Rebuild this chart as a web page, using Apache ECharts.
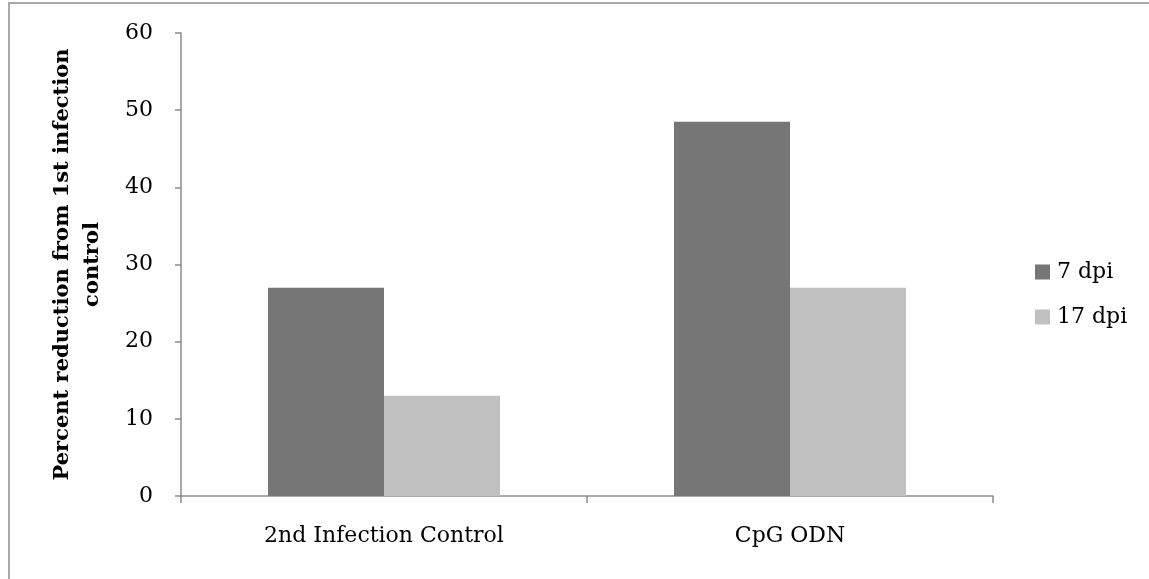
<!DOCTYPE html>
<html>
<head>
<meta charset="utf-8">
<script src="https://cdn.jsdelivr.net/npm/echarts@6/dist/echarts.min.js"></script>
<style>
  html, body { margin: 0; padding: 0; background: #fff; }
  #chart { width: 1149px; height: 579px; }
</style>
</head>
<body>
<div id="chart"></div>
<script>
// Treatment groups along the x axis
const categories = ['2nd Infection Control', 'CpG ODN'];
// Percent reduction at each time point
const dpi7 = [27, 48.5];
const dpi17 = [13, 27];
const seriesNames = ['7 dpi', '17 dpi'];

const FONT = 'DejaVu Serif';
const chart = echarts.init(document.getElementById('chart'), null, { renderer: 'canvas' });

chart.setOption({
  animation: false,
  backgroundColor: '#fff',
  graphic: [{
    type: 'rect',
    shape: { x: 9, y: 3, width: 1300, height: 700 },
    style: { fill: 'none', stroke: '#a9a9a9', lineWidth: 2 },
    silent: true
  }],
  grid: { left: 181, right: 156, top: 33, bottom: 83, containLabel: false },
  legend: {
    orient: 'vertical',
    left: 1035,
    top: 261,
    padding: 0,
    itemWidth: 15,
    itemHeight: 15,
    itemGap: 23,
    icon: 'rect',
    textStyle: { fontFamily: FONT, fontSize: 22, color: '#000', padding: [0, 0, 0, 2] },
    data: seriesNames
  },
  xAxis: {
    type: 'category',
    data: categories,
    axisLine: { lineStyle: { color: '#8c8c8c', width: 1.5 } },
    axisTick: { show: true, length: 7, lineStyle: { color: '#8c8c8c', width: 1.5 } },
    axisLabel: { fontFamily: FONT, fontSize: 22, color: '#000', margin: 29 }
  },
  yAxis: {
    type: 'value',
    min: 0,
    max: 60,
    interval: 10,
    name: 'Percent reduction from 1st infection\ncontrol',
    nameLocation: 'middle',
    nameRotate: 90,
    nameGap: 73,
    nameTextStyle: { fontFamily: FONT, fontSize: 21, fontWeight: 'bold', color: '#000', lineHeight: 30 },
    axisLine: { show: true, lineStyle: { color: '#8c8c8c', width: 1.5 } },
    axisTick: { show: true, length: 6, lineStyle: { color: '#8c8c8c', width: 1.5 } },
    splitLine: { show: false },
    axisLabel: { fontFamily: FONT, fontSize: 22, color: '#000', margin: 28 }
  },
  series: [
    {
      name: seriesNames[0],
      type: 'bar',
      data: dpi7,
      barWidth: 116,
      barGap: '0%',
      itemStyle: { color: '#767676' }
    },
    {
      name: seriesNames[1],
      type: 'bar',
      data: dpi17,
      barWidth: 116,
      barGap: '0%',
      itemStyle: { color: '#c0c0c0' }
    }
  ]
});
</script>
</body>
</html>
